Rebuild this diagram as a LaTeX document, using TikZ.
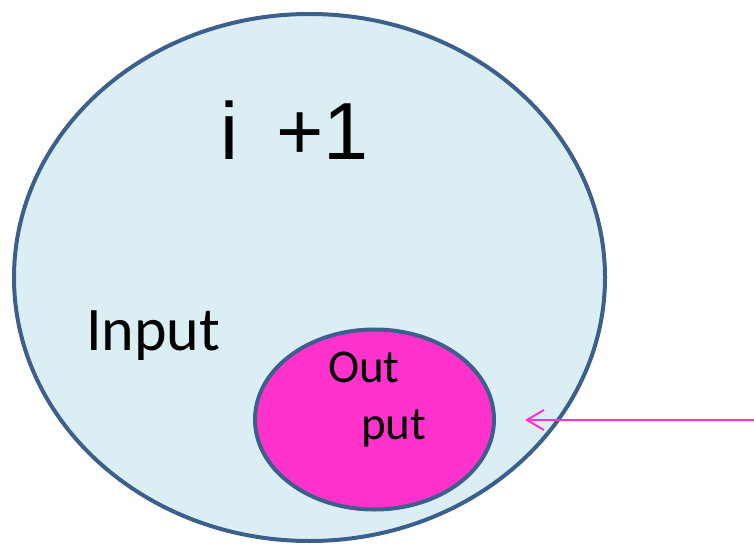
\documentclass[tikz,border=0pt]{standalone}
\usepackage{fontspec}
\setmainfont{Carlito}
\newfontfamily\arialf{Liberation Sans}
\usetikzlibrary{shapes.geometric,arrows.meta}
\definecolor{bigfill}{HTML}{DAEEF3}
\definecolor{edgeblue}{HTML}{3D5F8C}
\definecolor{magenta}{HTML}{FF33CC}
\tikzset{
  setbox/.style={ellipse, draw=edgeblue, line width=4pt, inner sep=0pt},
  lbl/.style={anchor=base west, inner sep=0pt, text=black},
  pointer/.style={draw=magenta, line width=2pt, -{Straight Barb[length=17pt,width=20pt,line width=2pt]}}
}
\begin{document}
\begin{tikzpicture}[x=1pt,y=-1pt]
\useasboundingbox (0,0) rectangle (754,545);
\node[setbox, fill=bigfill, minimum width=591pt, minimum height=527pt] (big) at (309.5,277.5) {};
\node[setbox, fill=magenta, minimum width=239pt, minimum height=180pt] (small) at (374.5,419.5) {};
\node[lbl, font=\arialf\fontsize{81}{97}\selectfont] (title) at (220,160) {i\hspace{38pt}+1};
\node[lbl, font=\fontsize{62}{74}\selectfont] (input) at (86,350) {Input};
\node[lbl, font=\fontsize{47}{56}\selectfont] (out) at (328,382) {Out};
\node[lbl, font=\fontsize{47}{56}\selectfont] (put) at (361,439) {put};
\coordinate (src) at (756,420);
\coordinate (tip) at (525,420);
\draw[pointer] (src) -- (tip);
\end{tikzpicture}
\end{document}
